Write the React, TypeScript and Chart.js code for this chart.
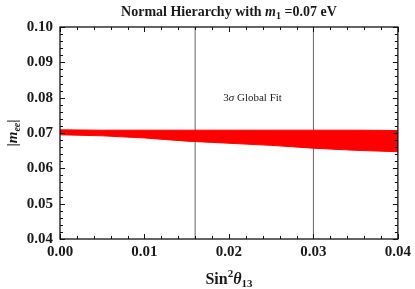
import React, { useEffect, useRef } from "react";
import { Chart, registerables } from "chart.js";

Chart.register(...registerables);

const xBand = [0, 0.005, 0.01, 0.015, 0.02, 0.025, 0.03, 0.035, 0.04];
const bandUpper = [0.0709, 0.0708, 0.0708, 0.0708, 0.0708, 0.0708, 0.0708, 0.0708, 0.0707];
const bandLower = [0.0695, 0.0692, 0.0686, 0.0677, 0.0671, 0.0665, 0.0657, 0.0651, 0.0647];
const fitLines = [0.016, 0.03];
const xTicks = [0, 0.01, 0.02, 0.03, 0.04];
const yTicks = [0.04, 0.05, 0.06, 0.07, 0.08, 0.09, 0.1];
const annotation = { x: 0.0228, y: 0.08, text: "Global Fit" };

const SERIF = "'Liberation Serif', 'Times New Roman', serif";

type Part = { t: string; font: string; dy?: number };

function drawParts(ctx: CanvasRenderingContext2D, parts: Part[], cx: number, baseline: number) {
  let total = 0;
  for (const p of parts) {
    ctx.font = p.font;
    total += ctx.measureText(p.t).width;
  }
  let x = cx - total / 2;
  ctx.textAlign = "left";
  ctx.textBaseline = "alphabetic";
  for (const p of parts) {
    ctx.font = p.font;
    ctx.fillText(p.t, x, baseline + (p.dy || 0));
    x += ctx.measureText(p.t).width;
  }
}

const decorPlugin = {
  id: "decor",
  afterDraw(chart: any) {
    const { ctx, chartArea, scales } = chart;
    const { left, right, top, bottom } = chartArea;
    const xs = scales.x;
    const ys = scales.y;
    ctx.save();
    ctx.fillStyle = "#1a1a1a";
    ctx.strokeStyle = "#111";
    ctx.lineWidth = 1.3;
    ctx.strokeRect(left, top, right - left, bottom - top);
    ctx.lineWidth = 1;
    const drawX = (v: number, len: number) => {
      const px = Math.round(xs.getPixelForValue(v)) + 0.5;
      ctx.beginPath();
      ctx.moveTo(px, bottom);
      ctx.lineTo(px, bottom - len);
      ctx.moveTo(px, top);
      ctx.lineTo(px, top + len);
      ctx.stroke();
    };
    const drawY = (v: number, len: number) => {
      const py = Math.round(ys.getPixelForValue(v)) + 0.5;
      ctx.beginPath();
      ctx.moveTo(left, py);
      ctx.lineTo(left + len, py);
      ctx.moveTo(right, py);
      ctx.lineTo(right - len, py);
      ctx.stroke();
    };
    for (let i = 0; i <= 20; i++) drawX(i * 0.002, i % 5 === 0 ? 5 : 3);
    for (let i = 0; i <= 30; i++) drawY(0.04 + i * 0.002, i % 5 === 0 ? 5 : 3);

    const b = `bold 14px ${SERIF}`;
    drawParts(
      ctx,
      [
        { t: "Normal Hierarchy with ", font: b },
        { t: "m", font: `italic bold 14px ${SERIF}` },
        { t: "1", font: `bold 10px ${SERIF}`, dy: 3 },
        { t: " =0.07 eV", font: b },
      ],
      (left + right) / 2,
      16
    );

    const b16 = `bold 16px ${SERIF}`;
    drawParts(
      ctx,
      [
        { t: "Sin", font: b16 },
        { t: "2", font: `bold 11px ${SERIF}`, dy: -7 },
        { t: "θ", font: `italic bold 16px ${SERIF}` },
        { t: "13", font: `bold 11px ${SERIF}`, dy: 3 },
      ],
      (left + right) / 2,
      284
    );

    ctx.save();
    ctx.translate(17, (top + bottom) / 2);
    ctx.rotate(-Math.PI / 2);
    drawParts(
      ctx,
      [
        { t: "|", font: `bold 15px ${SERIF}` },
        { t: "m", font: `italic bold 15px ${SERIF}` },
        { t: "ee", font: `italic bold 10px ${SERIF}`, dy: 3 },
        { t: "|", font: `bold 15px ${SERIF}` },
      ],
      0,
      0
    );
    ctx.restore();

    const ax = xs.getPixelForValue(annotation.x);
    const ay = ys.getPixelForValue(annotation.y);
    drawParts(
      ctx,
      [
        { t: "3", font: `11px ${SERIF}` },
        { t: "σ", font: `italic 11px ${SERIF}` },
        { t: " " + annotation.text, font: `11px ${SERIF}` },
      ],
      ax,
      ay + 3
    );
    ctx.restore();
  },
};

export default function App() {
  const ref = useRef<HTMLCanvasElement>(null);
  useEffect(() => {
    document.body.style.margin = "0";
    const canvas = ref.current!;
    const datasets: any[] = [
      {
        data: xBand.map((x, i) => ({ x, y: bandUpper[i] })),
        borderColor: "#ff0000",
        backgroundColor: "#ff0000",
        borderWidth: 1,
        pointRadius: 0,
        fill: "+1",
      },
      {
        data: xBand.map((x, i) => ({ x, y: bandLower[i] })),
        borderColor: "#ff0000",
        backgroundColor: "#ff0000",
        borderWidth: 1,
        pointRadius: 0,
        fill: false,
      },
      ...fitLines.map((v) => ({
        data: [
          { x: v, y: yTicks[0] },
          { x: v, y: yTicks[yTicks.length - 1] },
        ],
        borderColor: "#666",
        borderWidth: 1,
        pointRadius: 0,
        fill: false,
      })),
    ];
    const chart = new Chart(canvas, {
      type: "line",
      data: { datasets },
      options: {
        animation: false,
        responsive: false,
        maintainAspectRatio: false,
        layout: { padding: { top: 27, right: 16, left: 0, bottom: 0 } },
        plugins: { legend: { display: false }, tooltip: { enabled: false }, title: { display: false } },
        scales: {
          x: {
            type: "linear",
            min: 0,
            max: 0.04,
            afterBuildTicks: (s: any) => {
              s.ticks = xTicks.map((v) => ({ value: v }));
            },
            afterFit: (s: any) => {
              s.height = 50;
            },
            grid: { display: false, drawTicks: false },
            border: { display: false },
            ticks: {
              padding: 4,
              color: "#1a1a1a",
              font: { family: SERIF, size: 15, weight: "bold" },
              callback: (v: any) => Number(v).toFixed(2),
              maxRotation: 0,
            },
          },
          y: {
            type: "linear",
            min: 0.04,
            max: 0.1,
            afterBuildTicks: (s: any) => {
              s.ticks = yTicks.map((v) => ({ value: v }));
            },
            afterFit: (s: any) => {
              s.width = 60;
            },
            grid: { display: false, drawTicks: false },
            border: { display: false },
            ticks: {
              padding: 7,
              color: "#1a1a1a",
              font: { family: SERIF, size: 15, weight: "bold" },
              callback: (v: any) => Number(v).toFixed(2),
            },
          },
        },
      } as any,
      plugins: [decorPlugin],
    });
    return () => chart.destroy();
  }, []);
  return <canvas ref={ref} width={415} height={289} style={{ display: "block" }} />;
}
